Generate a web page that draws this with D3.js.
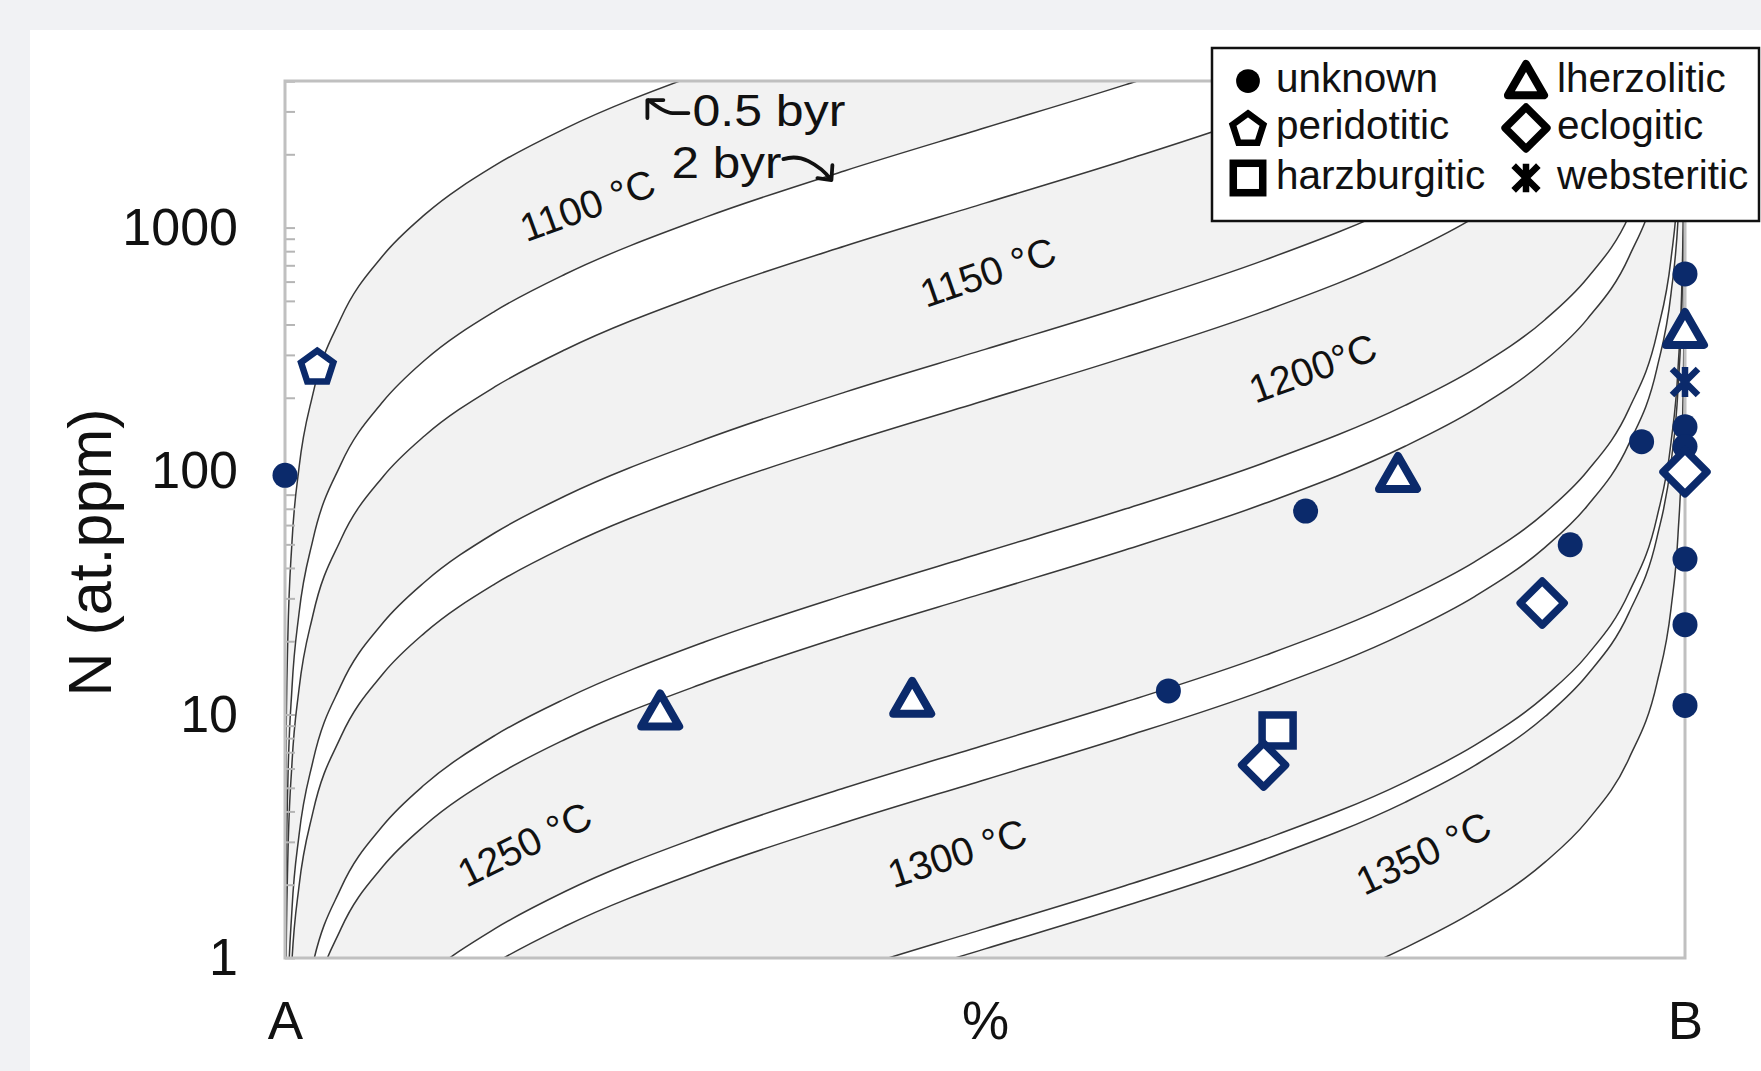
<!DOCTYPE html>
<html>
<head>
<meta charset="utf-8">
<script src="https://cdn.jsdelivr.net/npm/d3@7"></script>
<style>
  html, body { margin: 0; padding: 0; background: #f1f2f4; }
  svg { display: block; }
  text { font-family: "Liberation Sans", Arial, Helvetica, sans-serif; }
</style>
</head>
<body>
<svg id="chart" width="1761" height="1071"></svg>
<script>
// ---- data ---------------------------------------------------------------
// Share of B (%) at which every isotherm is sampled
const pctGrid = [0.01, 0.05, 0.1, 0.2, 0.5, 1, 2, 4, 7, 10, 15, 20, 30, 40, 50, 60, 70, 80, 85, 90, 93, 96, 98, 99, 99.5, 99.8, 99.9, 99.95, 99.99];

// N (at.ppm) along each isotherm, 0.5 byr and 2 byr residence
const n1100_05 = [1.02, 5.10, 10.2, 20.4, 51.3, 103, 208, 425, 768, 1133, 1800, 2550, 4371, 6800, 10200, 15300, 23800, 40800, 57800, 91800, 135500, 244800, 499800, 1.01e6, 2.03e6, 5.09e6, 1.02e7, 2.04e7, 1.02e8];
const n1100_2 = [0.257, 1.29, 2.57, 5.15, 12.9, 26.0, 52.4, 107, 193, 286, 454, 643, 1101, 1713, 2570, 3855, 5997, 10280, 14560, 23130, 34140, 61680, 125900, 254400, 511400, 1.28e6, 2.57e6, 5.14e6, 2.57e7];
const n1150_05 = [0.126, 0.630, 1.26, 2.53, 6.33, 12.7, 25.7, 52.5, 94.8, 140, 222, 315, 540, 840, 1260, 1890, 2940, 5040, 7140, 11340, 16740, 30240, 61740, 124700, 250700, 628700, 1.26e6, 2.52e6, 1.26e7];
const n1150_2 = [0.0316, 0.158, 0.316, 0.633, 1.59, 3.19, 6.45, 13.2, 23.8, 35.1, 55.8, 79, 135, 211, 316, 474, 737, 1264, 1791, 2844, 4198, 7584, 15480, 31280, 62880, 157700, 315700, 631700, 3.16e6];
const n1200_05 = [0.0195, 0.0976, 0.195, 0.391, 0.980, 1.97, 3.98, 8.13, 14.7, 21.7, 34.4, 48.8, 83.6, 130, 195, 293, 455, 780, 1105, 1755, 2591, 4680, 9555, 19310, 38810, 97310, 194800, 389800, 1.95e6];
const n1200_2 = [0.00465, 0.0233, 0.0465, 0.0932, 0.234, 0.470, 0.949, 1.94, 3.50, 5.17, 8.21, 11.6, 19.9, 31.0, 46.5, 69.8, 108.5, 186, 263.5, 418.5, 617.8, 1116, 2279, 4604, 9254, 23200, 46450, 92950, 465000];
const n1250_05 = [0.00316, 0.0158, 0.0316, 0.0633, 0.159, 0.319, 0.645, 1.32, 2.38, 3.51, 5.58, 7.90, 13.5, 21.1, 31.6, 47.4, 73.7, 126.4, 179.1, 284.4, 419.8, 758.4, 1548, 3128, 6288, 15770, 31570, 63170, 316000];
const n1250_2 = [0.00075, 0.00375, 0.0075, 0.015, 0.0377, 0.0758, 0.153, 0.3125, 0.565, 0.833, 1.32, 1.875, 3.21, 5.0, 7.5, 11.25, 17.5, 30, 42.5, 67.5, 99.6, 180, 367.5, 742.5, 1492, 3742, 7492, 14990, 75000];
const n1300_05 = [0.00054, 0.0027, 0.0054, 0.0108, 0.0271, 0.0545, 0.110, 0.225, 0.406, 0.6, 0.953, 1.35, 2.31, 3.6, 5.4, 8.1, 12.6, 21.6, 30.6, 48.6, 71.7, 129.6, 264.6, 534.6, 1075, 2695, 5395, 10790, 54000];
const n1300_2 = [0.000132, 0.00066, 0.00132, 0.00265, 0.00663, 0.0133, 0.0269, 0.055, 0.0994, 0.147, 0.233, 0.33, 0.566, 0.88, 1.32, 1.98, 3.08, 5.28, 7.48, 11.9, 17.5, 31.7, 64.7, 130.7, 262.7, 658.7, 1319, 2639, 13200];
const n1350_05 = [0.000109, 0.000545, 0.00109, 0.00218, 0.00548, 0.011, 0.0222, 0.0454, 0.082, 0.121, 0.192, 0.2725, 0.467, 0.727, 1.09, 1.635, 2.54, 4.36, 6.18, 9.81, 14.5, 26.2, 53.4, 107.9, 216.9, 543.9, 1089, 2179, 10900];
const n1350_2 = [2.75e-5, 0.000138, 0.000275, 0.000551, 0.00138, 0.00278, 0.00561, 0.0115, 0.0207, 0.0306, 0.0485, 0.0688, 0.118, 0.183, 0.275, 0.4125, 0.642, 1.1, 1.56, 2.475, 3.65, 6.6, 13.5, 27.2, 54.7, 137, 275, 550, 2750];

const isoLabels = ["1100 °C", "1150 °C", "1200°C", "1250 °C", "1300 °C", "1350 °C"];

// Diamonds by paragenesis: share of B (%) and N (at.ppm)
const unknownPct = [0, 72.9, 63.1, 91.8, 96.9, 100, 100, 100, 100, 100, 100];
const unknownN   = [96, 68.5, 12.5, 49.8, 132, 645, 152, 126, 43.5, 23.4, 10.9];
const peridotiticPct = [2.3];
const peridotiticN   = [270];
const harzburgiticPct = [70.9];
const harzburgiticN   = [8.6];
const lherzoliticPct = [26.8, 44.8, 79.5, 100];
const lherzoliticN   = [10.3, 11.6, 97.2, 380];
const eclogiticPct = [69.9, 89.8, 100];
const eclogiticN   = [6.2, 28.7, 99.3];
const websteriticPct = [100];
const websteriticN   = [232];

const typeNames = ["unknown", "peridotitic", "harzburgitic", "lherzolitic", "eclogitic", "websteritic"];
const yTickValues = [1, 10, 100, 1000];
const xTickLabels = ["A", "%", "B"];
const ageLabels = ["0.5 byr", "2 byr"];

// ---- layout -------------------------------------------------------------
const W = 1761, H = 1071;
const plot = { left: 285, right: 1685, top: 81, bottom: 958 };
const navy = "#0b2a6b";

const svg = d3.select("#chart");

// page panel
svg.append("rect").attr("x", 0).attr("y", 0).attr("width", W).attr("height", H).attr("fill", "#f1f2f4");
svg.append("rect").attr("x", 30).attr("y", 30).attr("width", W - 30).attr("height", H - 30).attr("fill", "#ffffff");

const x = d3.scaleLinear().domain([0, 100]).range([plot.left, plot.right]);
const y = d3.scaleLog().domain([1, 4000]).range([plot.bottom, plot.top]);

svg.append("defs").append("clipPath").attr("id", "plotClip")
  .append("rect")
  .attr("x", plot.left).attr("y", plot.top)
  .attr("width", plot.right - plot.left).attr("height", plot.bottom - plot.top);

const isotherms = [
  { label: isoLabels[0], young: n1100_05, old: n1100_2 },
  { label: isoLabels[1], young: n1150_05, old: n1150_2 },
  { label: isoLabels[2], young: n1200_05, old: n1200_2 },
  { label: isoLabels[3], young: n1250_05, old: n1250_2 },
  { label: isoLabels[4], young: n1300_05, old: n1300_2 },
  { label: isoLabels[5], young: n1350_05, old: n1350_2 }
];

const gCurves = svg.append("g").attr("clip-path", "url(#plotClip)");

const band = d3.area()
  .x((d, i) => x(pctGrid[i]))
  .y0(d => y(d[1]))
  .y1(d => y(d[0]))
  .curve(d3.curveMonotoneX);

const line = d3.line()
  .x((d, i) => x(pctGrid[i]))
  .y(d => y(d))
  .curve(d3.curveMonotoneX);

isotherms.forEach(iso => {
  const pairs = iso.young.map((v, i) => [v, iso.old[i]]);
  gCurves.append("path").attr("d", band(pairs)).attr("fill", "#f2f2f2");
});
isotherms.forEach(iso => {
  [iso.young, iso.old].forEach(series => {
    gCurves.append("path").attr("d", line(series))
      .attr("fill", "none").attr("stroke", "#383838").attr("stroke-width", 1.5);
  });
});

// isotherm labels, anchored in data space and rotated along the band
const isoLabelPlace = [
  { pct: 21.6, n: 1236, angle: -20 },
  { pct: 50.2, n: 657, angle: -19 },
  { pct: 73.4, n: 265, angle: -20 },
  { pct: 17.1, n: 2.94, angle: -26 },
  { pct: 48.0, n: 2.70, angle: -18 },
  { pct: 81.3, n: 2.70, angle: -25 }
];
isotherms.forEach((iso, i) => {
  const p = isoLabelPlace[i];
  const cx = x(p.pct), cy = y(p.n);
  svg.append("text")
    .attr("transform", `translate(${cx},${cy}) rotate(${p.angle})`)
    .attr("text-anchor", "middle")
    .attr("dominant-baseline", "central")
    .attr("font-size", 39.5)
    .attr("fill", "#111")
    .text(iso.label);
});

// residence-time annotations (baseline anchors in data space, drawn width in px)
const ageText = [
  { pct: 29.1, n: 2612, len: 153 },
  { pct: 27.6, n: 1597, len: 110 }
];
ageLabels.forEach((t, i) => {
  svg.append("text")
    .attr("x", x(ageText[i].pct)).attr("y", y(ageText[i].n))
    .attr("font-size", 44).attr("fill", "#111")
    .attr("textLength", ageText[i].len).attr("lengthAdjust", "spacingAndGlyphs")
    .text(t);
});
{
  const ax = x(ageText[0].pct), ay = y(ageText[0].n);
  const bx = x(ageText[1].pct), by = y(ageText[1].n);
  const arrows = svg.append("g").attr("fill", "none").attr("stroke", "#111")
    .attr("stroke-width", 3.8).attr("stroke-linecap", "round").attr("stroke-linejoin", "round");
  // up-left arrow toward the 0.5 byr curve
  arrows.append("path").attr("d",
    `M${ax - 4},${ay - 13} L${ax - 20},${ay - 13} Q${ax - 28},${ay - 13} ${ax - 44},${ay - 26}` +
    ` M${ax - 45},${ay - 26} L${ax - 45},${ay - 8} M${ax - 45},${ay - 26} L${ax - 29},${ay - 26}`);
  // down-right arrow toward the 2 byr curve
  const ex = bx + ageText[1].len + 1;
  arrows.append("path").attr("d",
    `M${ex + 1},${by - 19} Q${ex + 14},${by - 23} ${ex + 26},${by - 17} Q${ex + 40},${by - 10} ${ex + 48},${by + 1}` +
    ` M${ex + 49},${by + 2} L${ex + 50},${by - 13} M${ex + 49},${by + 2} L${ex + 35},${by}`);
}

// ---- axes ---------------------------------------------------------------
const minorTicks = [];
[1, 10, 100, 1000].forEach(dec => {
  for (let k = 1; k <= 9; k++) { const v = dec * k; if (v <= 4000) minorTicks.push(v); }
});
minorTicks.push(4000);

const gMinor = svg.append("g").attr("transform", `translate(${plot.left},0)`)
  .call(d3.axisLeft(y).tickValues(minorTicks).tickSize(-10).tickFormat(""));
gMinor.select(".domain").remove();
gMinor.selectAll(".tick line").attr("stroke", "#b5b5b5").attr("stroke-width", 2);

const gY = svg.append("g").attr("transform", `translate(${plot.left},0)`)
  .call(d3.axisLeft(y).tickValues(yTickValues).tickSize(0).tickPadding(47).tickFormat(d3.format("d")));
gY.select(".domain").remove();
gY.selectAll("text").attr("font-size", 52).attr("fill", "#111")
  .attr("font-family", "'Liberation Sans', Arial, sans-serif");

const gX = svg.append("g").attr("transform", `translate(0,${plot.bottom})`)
  .call(d3.axisBottom(x).tickValues([0, 50, 100]).tickSize(0).tickPadding(43)
    .tickFormat((d, i) => xTickLabels[i]));
gX.select(".domain").remove();
gX.selectAll("text").attr("font-size", 53).attr("fill", "#111")
  .attr("font-family", "'Liberation Sans', Arial, sans-serif");

// plot frame
svg.append("rect")
  .attr("x", plot.left).attr("y", plot.top)
  .attr("width", plot.right - plot.left).attr("height", plot.bottom - plot.top)
  .attr("fill", "none").attr("stroke", "#c0c0c0").attr("stroke-width", 3);

svg.append("text")
  .attr("transform", `translate(90,${(plot.top + plot.bottom) / 2 + 33}) rotate(-90)`)
  .attr("text-anchor", "middle").attr("dominant-baseline", "central")
  .attr("font-size", 61).attr("fill", "#111")
  .text("N (at.ppm)");

// ---- markers ------------------------------------------------------------
function pentagonPath(r) {
  const pts = d3.range(5).map(k => {
    const a = -Math.PI / 2 + k * 2 * Math.PI / 5;
    return [r * Math.cos(a), r * Math.sin(a) + r * 0.1];
  });
  return "M" + pts.map(p => p.join(",")).join("L") + "Z";
}
function drawMarker(g, type, cx, cy, color, s) {
  const m = g.append("g").attr("transform", `translate(${cx},${cy})`);
  if (type === "unknown") {
    m.append("circle").attr("r", 12.5 * s).attr("fill", color);
  } else if (type === "peridotitic") {
    m.append("path").attr("d", pentagonPath(17 * s))
      .attr("fill", "#fff").attr("stroke", color).attr("stroke-width", 6.5).attr("stroke-linejoin", "miter");
  } else if (type === "harzburgitic") {
    const h = 15.5 * s;
    m.append("rect").attr("x", -h).attr("y", -h).attr("width", 2 * h).attr("height", 2 * h)
      .attr("fill", "#fff").attr("stroke", color).attr("stroke-width", 7.5);
  } else if (type === "lherzolitic") {
    m.append("path").attr("d", `M0,${-18 * s}L${19 * s},${15 * s}L${-19 * s},${15 * s}Z`)
      .attr("fill", "#fff").attr("stroke", color).attr("stroke-width", 8).attr("stroke-linejoin", "round");
  } else if (type === "eclogitic") {
    const h = 22 * s;
    m.append("path").attr("d", `M0,${-h}L${h},0L0,${h}L${-h},0Z`)
      .attr("fill", "#fff").attr("stroke", color).attr("stroke-width", 7.5).attr("stroke-linejoin", "round");
  } else if (type === "websteritic") {
    const h = 13 * s, v = 15 * s;
    m.append("path").attr("d", `M${-h},${-h}L${h},${h}M${-h},${h}L${h},${-h}M0,${-v}L0,${v}`)
      .attr("fill", "none").attr("stroke", color).attr("stroke-width", 6.5);
  }
}

const seriesPct = [unknownPct, peridotiticPct, harzburgiticPct, lherzoliticPct, eclogiticPct, websteriticPct];
const seriesN = [unknownN, peridotiticN, harzburgiticN, lherzoliticN, eclogiticN, websteriticN];
const gPts = svg.append("g");
typeNames.forEach((t, i) => {
  seriesPct[i].forEach((p, j) => {
    drawMarker(gPts, t, x(p), y(seriesN[i][j]), navy, 1);
  });
});

// ---- legend -------------------------------------------------------------
const lg = svg.append("g");
lg.append("rect").attr("x", 1212).attr("y", 48).attr("width", 547).attr("height", 173)
  .attr("fill", "#fff").attr("stroke", "#111").attr("stroke-width", 2.5);
const legendOrder = [["unknown", "lherzolitic"], ["peridotitic", "eclogitic"], ["harzburgitic", "websteritic"]];
const rowY = [81, 128, 178];
const colSym = [1248, 1526];
const colText = [1276, 1557];
legendOrder.forEach((row, r) => {
  row.forEach((t, c) => {
    drawMarker(lg, t, colSym[c], rowY[r], "#000", 0.95);
    lg.append("text").attr("x", colText[c]).attr("y", rowY[r] + 11)
      .attr("font-size", 40.5).attr("fill", "#111").text(t);
  });
});
</script>
</body>
</html>
